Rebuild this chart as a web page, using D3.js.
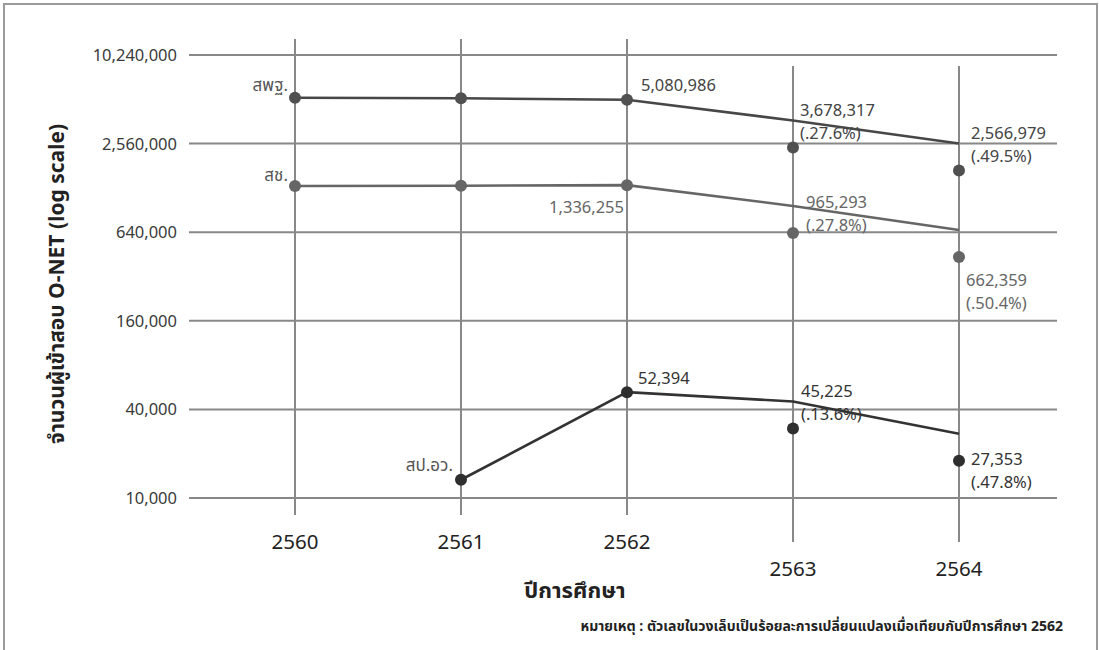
<!DOCTYPE html>
<html>
<head>
<meta charset="utf-8">
<script src="https://cdn.jsdelivr.net/npm/d3@7"></script>
<style>
  html, body { margin: 0; padding: 0; background: #fff; }
  svg { display: block; font-family: "Noto Sans Thai", "Noto Sans", "Open Sans", sans-serif; }
</style>
</head>
<body>
<svg id="chart" width="1099" height="650"></svg>
<script>
// ---- data ----
const years = [2560, 2561, 2562, 2563, 2564];
const obec  = [5250000, 5200000, 5080986, 3678317, 2566979];   // สพฐ.
const opec  = [1320000, 1325000, 1336255, 965293, 662359];     // สช.
const mhesi = [null, 13300, 52394, 45225, 27353];              // สป.อว.
const obecPct  = [null, null, null, "(.27.6%)", "(.49.5%)"];
const opecPct  = [null, null, null, "(.27.8%)", "(.50.4%)"];
const mhesiPct = [null, null, null, "(.13.6%)", "(.47.8%)"];
const yTicks = [10000, 40000, 160000, 640000, 2560000, 10240000];
const shiftedYears = [2563, 2564];
const seriesNames = ["สพฐ.", "สช.", "สป.อว."];
const yTitle = "จำนวนผู้เข้าสอบ O-NET (log scale)";
const xTitle = "ปีการศึกษา";
const note = "หมายเหตุ : ตัวเลขในวงเล็บเป็นร้อยละการเปลี่ยนแปลงเมื่อเทียบกับปีการศึกษา 2562";

// ---- layout ----
const svg = d3.select("#chart");
const shiftPx = 27;
const shift = yr => shiftedYears.includes(yr) ? shiftPx : 0;
const x = d3.scaleLinear().domain([2560, 2564]).range([295, 959]);
const y = d3.scaleLog().domain([10000, 10240000]).range([498, 55]);
const gridColor = "#888";

// frame
svg.append("rect").attr("x", 4).attr("y", 4).attr("width", 1093).attr("height", 720)
  .attr("fill", "none").attr("stroke", "#9a9a9a").attr("stroke-width", 2);

// horizontal grid + y tick labels
const fmt = d3.format(",");
svg.append("g").selectAll("line").data(yTicks).join("line")
  .attr("x1", 189).attr("x2", 1057)
  .attr("y1", d => y(d)).attr("y2", d => y(d))
  .attr("stroke", gridColor).attr("stroke-width", 2);
svg.append("g").selectAll("text").data(yTicks).join("text")
  .attr("x", 177).attr("y", d => y(d) + 6)
  .attr("text-anchor", "end").attr("font-size", 16.5).attr("fill", "#3a3a3a")
  .text(d => fmt(d));

// vertical grid + x tick labels
svg.append("g").selectAll("line").data(years).join("line")
  .attr("x1", d => x(d)).attr("x2", d => x(d))
  .attr("y1", d => 39 + shift(d)).attr("y2", d => 515 + shift(d))
  .attr("stroke", gridColor).attr("stroke-width", 2);
svg.append("g").selectAll("text").data(years).join("text")
  .attr("x", d => x(d)).attr("y", d => 549 + shift(d))
  .attr("text-anchor", "middle").attr("font-size", 20.5).attr("fill", "#222")
  .text(d => d);

// axis titles
svg.append("text")
  .attr("transform", "translate(64,284) rotate(-90)")
  .attr("text-anchor", "middle").attr("font-size", 21).attr("font-weight", "bold").attr("fill", "#222")
  .text(yTitle);
svg.append("text")
  .attr("x", 575).attr("y", 598)
  .attr("text-anchor", "middle").attr("font-size", 22).attr("font-weight", "bold").attr("fill", "#222")
  .text(xTitle);
svg.append("text")
  .attr("x", 1063).attr("y", 631)
  .attr("text-anchor", "end").attr("font-size", 14).attr("font-weight", "bold").attr("fill", "#222")
  .text(note);

// ---- series ----
const series = [
  { name: seriesNames[0], vals: obec,  pct: obecPct,  line: "#474747", dot: "#505050", txt: "#444",
    nameDx: -7, nameDy: -7,
    lab: [null, null, { dx: 14, dy: -9, a: "start" }, { dx: 7, dy: -31, a: "start" }, { dx: 12, dy: -31, a: "start" }] },
  { name: seriesNames[1], vals: opec,  pct: opecPct,  line: "#666", dot: "#666", txt: "#666",
    nameDx: -7, nameDy: -5,
    lab: [null, null, { dx: -3, dy: 28, a: "end" }, { dx: 13, dy: -25, a: "start" }, { dx: 7, dy: 29, a: "start" }] },
  { name: seriesNames[2], vals: mhesi, pct: mhesiPct, line: "#333", dot: "#2e2e2e", txt: "#333",
    nameDx: -8, nameDy: -9,
    lab: [null, null, { dx: 11, dy: -8, a: "start" }, { dx: 8, dy: -32, a: "start" }, { dx: 12, dy: 4, a: "start" }] }
];

series.forEach(s => {
  const pts = years.map((yr, i) => ({ yr, v: s.vals[i], pct: s.pct[i], lab: s.lab[i] })).filter(p => p.v != null);
  const g = svg.append("g");
  g.append("path").datum(pts)
    .attr("d", d3.line().x(p => x(p.yr)).y(p => y(p.v)))
    .attr("fill", "none").attr("stroke", s.line).attr("stroke-width", 2.6);
  g.selectAll("circle").data(pts).join("circle")
    .attr("cx", p => x(p.yr)).attr("cy", p => y(p.v) + shift(p.yr))
    .attr("r", 6).attr("fill", s.dot);
  // series name at first point
  const p0 = pts[0];
  g.append("text")
    .attr("x", x(p0.yr) + s.nameDx).attr("y", y(p0.v) + s.nameDy)
    .attr("text-anchor", "end").attr("font-size", 17).attr("fill", "#555")
    .text(s.name);
  // value labels
  pts.filter(p => p.lab).forEach(p => {
    const cx = x(p.yr) + p.lab.dx, cy = y(p.v) + shift(p.yr) + p.lab.dy;
    g.append("text").attr("x", cx).attr("y", cy)
      .attr("text-anchor", p.lab.a).attr("font-size", 16.5).attr("fill", s.txt)
      .text(fmt(p.v));
    if (p.pct) {
      g.append("text").attr("x", cx).attr("y", cy + 23)
        .attr("text-anchor", p.lab.a).attr("font-size", 16.5).attr("fill", s.txt)
        .text(p.pct);
    }
  });
});
</script>
</body>
</html>
